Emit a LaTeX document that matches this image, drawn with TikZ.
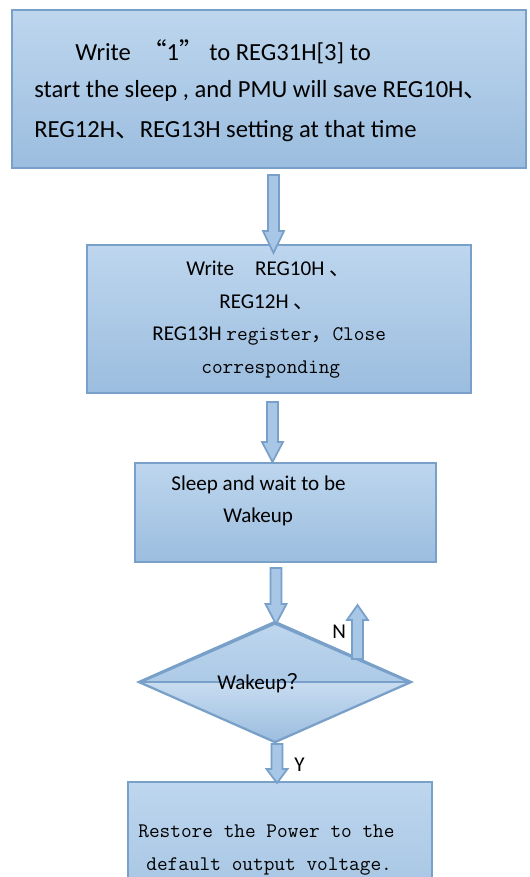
\documentclass[tikz,border=0pt]{standalone}
\usepackage{fontspec}
\setmainfont{Carlito}
\newfontfamily\cjk{Noto Sans CJK SC}
\usetikzlibrary{calc, shapes.geometric}

\definecolor{flowedge}{RGB}{120,160,200}
\definecolor{flowtop}{RGB}{190,214,238}
\definecolor{flowbot}{RGB}{155,189,223}
\definecolor{arrowfill}{RGB}{168,198,230}

\newcommand{\fatarrow}[3]{% #1 tail, #2 tip, #3 head length (negative: points down)
  \draw[fatarrow] ($(#1)+(-5.5,0)$) -- ($(#2)+(-5.5,#3)$) -- ($(#2)+(-10.5,#3)$) -- (#2)
    -- ($(#2)+(10.5,#3)$) -- ($(#2)+(5.5,#3)$) -- ($(#1)+(5.5,0)$) -- cycle;}

\begin{document}
\begin{tikzpicture}[x=0.02cm, y=-0.02cm,
	flowbox/.style={draw=flowedge, line width=1.3pt, top color=flowtop, bottom color=flowbot, inner sep=0pt},
	fatarrow/.style={draw=flowedge, line width=1pt, fill=arrowfill, line join=miter},
	bigtext/.style={anchor=base west, inner sep=0pt, font=\fontsize{14}{17}\selectfont},
	boxtext/.style={anchor=base west, inner sep=0pt, font=\fontsize{12}{14}\selectfont},
	monotext/.style={anchor=base west, inner sep=0pt, font=\ttfamily\fontsize{11.8}{14}\selectfont}]
	\clip (0,0) rectangle (529,877);

	% boxes
	\node[flowbox, minimum width=10.28cm, minimum height=3.16cm] (save) at (269,89) {};		%save registers
	\node[flowbox, minimum width=7.68cm, minimum height=2.96cm] (close) at (279,319) {};		%write and close
	\node[flowbox, minimum width=6.02cm, minimum height=1.98cm] (sleep) at (285.5,512.5) {};	%sleep
	\node[flowbox, diamond, minimum width=5.4cm, minimum height=2.36cm] (wake) at (275,682) {};	%decision
	\fill[top color=flowtop!85!white, bottom color=flowbot] (wake.west) -- (wake.east) -- (wake.south) -- cycle;
	\draw[draw=flowedge, line width=1.3pt] (wake.north) -- (wake.east) -- (wake.south) -- (wake.west) -- cycle;
	\draw[draw=flowedge, line width=1.3pt] (wake.west) -- (wake.east);						%middle line
	\node[flowbox, minimum width=6.08cm, minimum height=3.36cm] (restore) at (280,866) {};	%restore

	% arrows
	\coordinate (a1) at (273.5,175);	\coordinate (a1t) at (273.5,253);
	\coordinate (a2) at (272.5,402);	\coordinate (a2t) at (272.5,462);
	\coordinate (a3) at (276,568);		\coordinate (a3t) at (276,624);
	\coordinate (ay) at (277,744);		\coordinate (ayt) at (277,783);
	\coordinate (an) at (357.5,659);	\coordinate (ant) at (357.5,605);
	\fatarrow{a1}{a1t}{-22}
	\fatarrow{a2}{a2t}{-20}
	\fatarrow{a3}{a3t}{-20}
	\fatarrow{ay}{ayt}{-14}
	\fatarrow{an}{ant}{15}

	% texts
	\node[bigtext] (save1) at (75,60) {Write\ \ {\cjk “}1{\cjk ”}\ to REG31H[3] to};
	\node[bigtext] (save2) at (34,97) {start the sleep , and PMU will save REG10H{\cjk 、}};
	\node[bigtext] (save3) at (34,137) {REG12H{\cjk 、}REG13H setting at that time};
	\node[boxtext] (close1) at (186,275) {Write\quad REG10H {\cjk 、}};
	\node[boxtext] (close2) at (219,308) {REG12H {\cjk 、}};
	\node[boxtext] (close3) at (152,340) {REG13H {\ttfamily\fontsize{11.8}{14}\selectfont register{\cjk ，}Close}};
	\node[monotext] (close4) at (201,373) {corresponding};
	\node[boxtext] (sleep1) at (171,490) {Sleep and wait to be};
	\node[boxtext] (sleep2) at (223,522) {Wakeup};
	\node[boxtext] (wake1) at (217,689) {Wakeup{\cjk ？}};
	\node[boxtext] (no) at (332,638) {N};
	\node[boxtext] (yes) at (294,771) {Y};
	\node[monotext] (restore1) at (138,837) {Restore the Power to the};
	\node[monotext] (restore2) at (146,870) {default output voltage.};
\end{tikzpicture}
\end{document}
